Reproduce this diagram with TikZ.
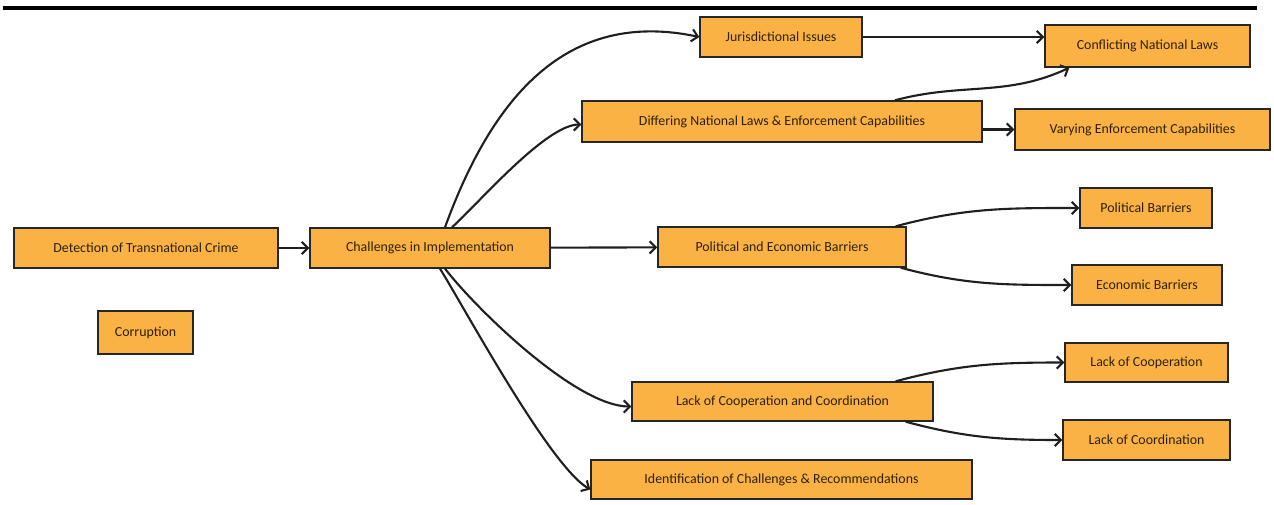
\documentclass[tikz,border=0pt]{standalone}
\usepackage{fontspec}
\setmainfont{Carlito}
\usetikzlibrary{positioning,arrows.meta}
\definecolor{boxorange}{HTML}{FBB244}
\definecolor{boxtext}{HTML}{2E200C}
\tikzset{
  box/.style={draw=black!85, line width=0.8pt, rectangle, fill=boxorange, text=boxtext,
    align=center, font=\fontsize{7.9}{9}\selectfont},
  link/.style={->, line width=1.2pt, black!88}
}
\begin{document}
\begin{tikzpicture}[x=0.02cm, y=-0.02cm, >={Straight Barb[length=3.5pt,width=7pt]}]
\useasboundingbox (0,0) rectangle (1274,504);
% heading rule
\draw[line width=2pt] (3,8) -- (1257,8);

% Define nodes
\node (detect) [box, minimum width=5.28cm, minimum height=0.8cm] at (146,248) {Detection of Transnational Crime};
\node (challenge) [box, minimum width=4.8cm, minimum height=0.8cm] at (430,248) {Challenges in Implementation};
\node (corrupt) [box, minimum width=1.9cm, minimum height=0.86cm] at (145.5,332.5) {Corruption};
\node (juris) [box, minimum width=3.24cm, minimum height=0.8cm] at (781,37) {Jurisdictional Issues};
\node (conflict) [box, minimum width=4.1cm, minimum height=0.84cm] at (1147.5,46) {Conflicting National Laws};
\node (differ) [box, minimum width=8cm, minimum height=0.82cm] at (782,121.5) {Differing National Laws \& Enforcement Capabilities};
\node (varying) [box, minimum width=5.1cm, minimum height=0.82cm] at (1142.5,129.5) {Varying Enforcement Capabilities};
\node (polecon) [box, minimum width=4.96cm, minimum height=0.8cm] at (782,247) {Political and Economic Barriers};
\node (political) [box, minimum width=2.64cm, minimum height=0.8cm] at (1146,208) {Political Barriers};
\node (economic) [box, minimum width=3cm, minimum height=0.8cm] at (1147,285) {Economic Barriers};
\node (lackcc) [box, minimum width=6.02cm, minimum height=0.78cm] at (782.5,401.5) {Lack of Cooperation and Coordination};
\node (lackcoop) [box, minimum width=3.26cm, minimum height=0.78cm] at (1146.5,362.5) {Lack of Cooperation};
\node (lackcoord) [box, minimum width=3.34cm, minimum height=0.8cm] at (1146.5,440) {Lack of Coordination};
\node (ident) [box, minimum width=7.62cm, minimum height=0.78cm] at (781.5,479.5) {Identification of Challenges \& Recommendations};

% Draw arrows
\draw[link] (detect) -- (challenge);
\draw[link] (challenge) -- (polecon);
\draw[link] ([xshift=0.3cm]challenge.north) to[out=70, in=168, looseness=1.1] (juris.west);
\draw[link] ([xshift=0.44cm]challenge.north) to[out=42, in=180, looseness=0.55] ([yshift=-0.06cm]differ.west);
\draw[link] ([xshift=0.3cm]challenge.south) to[out=-52, in=180, looseness=0.6] ([yshift=-0.1cm]lackcc.west);
\draw[link] ([xshift=0.2cm]challenge.south) to[out=-58, in=150, looseness=0.45] ([yshift=-0.2cm]ident.west);
\draw[link] (juris.east) -- (juris.east -| conflict.west);
\draw[link] ([xshift=2.26cm]differ.north) to[out=15, in=205] ([xshift=0.5cm]conflict.south west);
\draw[link] (differ.east |- varying.west) -- (varying.west);
\draw[link] ([xshift=-0.22cm]polecon.north east) to[out=15, in=180] (political.west);
\draw[link] ([xshift=-0.12cm]polecon.south east) to[out=-15, in=180] (economic.west);
\draw[link] ([xshift=-0.76cm]lackcc.north east) to[out=15, in=180] (lackcoop.west);
\draw[link] ([xshift=-0.56cm]lackcc.south east) to[out=-15, in=180] (lackcoord.west);
\end{tikzpicture}
\end{document}
